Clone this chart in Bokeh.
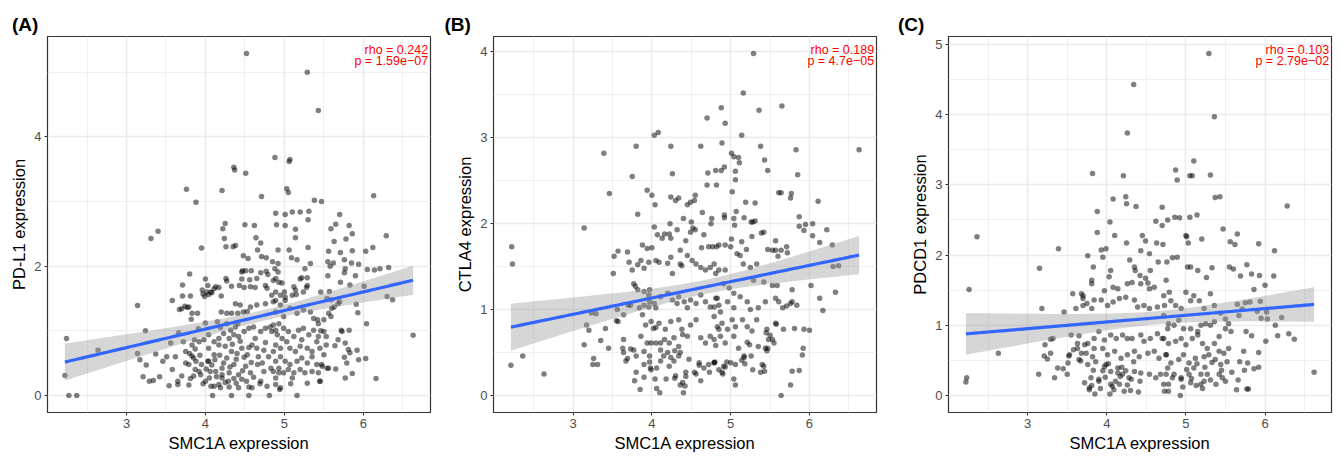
import numpy as np
from bokeh.plotting import figure
from bokeh.layouts import row
from bokeh.models import FixedTicker, Range1d
from bokeh.core.properties import value
from bokeh.embed import file_html
from bokeh.resources import INLINE

# ---------------- data ----------------
x_label = "SMC1A expression"
x_ticks = [3, 4, 5, 6]
x_minor = [2.5, 3.5, 4.5, 5.5, 6.5]

panel_tags = ["(A)", "(B)", "(C)"]
y_labels = ["PD-L1 expression", "CTLA4 expression", "PDCD1 expression"]
y_ticks = [[0, 2, 4], [0, 1, 2, 3, 4], [0, 1, 2, 3, 4, 5]]
y_minor = [[1, 3, 5], [0.5, 1.5, 2.5, 3.5], [0.5, 1.5, 2.5, 3.5, 4.5]]
rho_text = ["rho = 0.242", "rho = 0.189", "rho = 0.103"]
p_text = ["p = 1.59e\u221207", "p = 4.7e\u221205", "p = 2.79e\u221202"]

# (SMC1A, PD-L1)
pdl1_points = [
(4.52,5.29),(5.29,5.00),(5.43,4.41),(4.88,3.68),(5.07,3.65),(5.06,3.62),(4.36,3.53),(4.37,3.49),(4.51,3.44),(3.76,3.19),
(4.21,3.17),(5.03,3.20),(5.05,3.14),(3.88,2.99),(4.71,3.08),(5.38,3.02),(5.47,3.00),(6.13,3.09),(3.31,2.43),(3.40,2.54),
(3.95,2.28),(4.25,2.66),(4.22,2.58),(4.50,2.64),(4.62,2.63),(4.89,2.82),(5.01,2.80),(5.10,2.84),(5.20,2.84),(5.31,2.85),
(4.90,2.64),(5.01,2.63),(5.30,2.72),(5.14,2.57),(5.70,2.80),(5.59,2.58),(5.65,2.65),(5.82,2.63),(5.86,2.50),(6.29,2.47),
(4.24,2.43),(4.26,2.30),(4.35,2.30),(4.38,2.32),(4.64,2.44),(4.70,2.36),(5.14,2.44),(5.63,2.38),(5.78,2.42),(6.12,2.29),
(4.66,2.25),(4.92,2.25),(5.06,2.25),(5.30,2.29),(5.56,2.23),(5.71,2.21),(5.86,2.24),(6.03,2.23),(4.48,2.16),(4.54,2.12),
(4.71,2.15),(4.77,2.13),(5.09,2.13),(5.16,2.10),(5.76,2.10),(5.85,2.05),(5.94,2.03),(5.55,2.07),(5.58,2.00),(4.85,2.07),
(4.92,2.04),(4.92,1.91),(5.33,2.04),(5.26,1.96),(5.77,1.96),(5.76,1.90),(5.83,1.71),(6.14,1.94),(6.21,1.96),(6.32,1.98),
(3.80,1.88),(3.71,1.71),(4.00,1.80),(3.96,1.63),(4.02,1.60),(3.99,1.53),(4.04,1.56),(4.07,1.60),(4.13,1.68),(4.17,1.67),
(4.26,1.81),(4.33,1.69),(4.47,1.93),(4.51,1.93),(4.46,1.80),(4.56,1.79),(4.65,1.81),(4.49,1.67),(4.63,1.67),(4.70,1.90),
(4.77,1.92),(4.76,1.70),(4.78,1.66),(4.89,1.81),(4.97,1.74),(5.00,1.60),(5.12,1.68),(5.15,1.56),(5.22,1.82),(5.29,1.82),
(5.28,1.67),(5.46,1.60),(5.57,1.61),(5.59,1.48),(5.71,1.75),(6.01,1.69),(6.30,1.53),(6.37,1.48),(5.91,1.41),(5.93,1.28),
(6.04,1.11),(5.92,0.70),(6.03,0.57),(6.16,0.26),(6.63,0.93),(3.14,1.39),(3.24,1.00),(3.14,0.65),(3.17,0.55),(3.25,0.47),
(3.21,0.29),(3.29,0.22),(3.34,0.23),(3.42,0.29),(3.37,0.64),(3.46,0.53),(3.51,0.60),(3.54,0.15),(3.65,0.17),(3.65,0.22),
(3.58,1.47),(3.56,0.81),(3.71,1.54),(3.81,1.54),(3.70,1.34),(3.74,1.38),(3.77,1.36),(3.79,1.37),(3.83,1.27),(3.90,1.27),
(3.82,1.18),(3.66,0.97),(3.72,0.83),(3.83,0.78),(3.87,0.72),(3.75,0.68),(3.83,0.61),(3.88,0.53),(3.95,0.48),(3.92,0.37),
(3.81,0.26),(3.79,0.16),(3.85,0.30),(4.06,0.37),(4.03,0.53),(4.11,0.14),(4.09,0.00),(4.17,0.17),(4.21,0.32),(4.29,0.22),
(4.33,0.00),(4.30,0.13),(4.55,0.13),(4.55,0.00),(4.81,0.00),(5.16,0.00),(4.94,0.09),(5.08,0.18),(2.27,0.00),(2.37,0.00),
(2.22,0.31),(2.24,0.88),(2.64,0.70),(5.77,0.27),(5.86,0.34),(5.79,0.50),(5.76,0.59),(5.83,0.66),(5.82,1.01),(5.65,0.41),
(5.56,0.42),(5.45,0.22),(5.47,0.48),(5.53,0.78),(5.68,0.86),(5.72,1.01),(5.70,1.45),(5.59,1.22),(5.63,1.37),(5.64,0.77),
(5.53,0.91),(5.46,1.00),(5.42,1.17),
(4.03,1.70),(4.11,1.65),(3.97,1.57),(4.08,1.59),(4.20,1.54),(4.27,1.77),(4.43,1.70),(4.57,1.68),(4.46,1.91),(4.58,1.93),
(4.79,1.87),(4.88,1.96),(3.67,1.33),(4.20,1.29),(4.27,1.27),(4.33,1.27),(4.41,1.27),(4.48,1.29),(4.53,1.30),(4.38,1.42),
(4.44,1.40),(4.57,1.37),(4.65,1.40),(4.76,1.42),(4.84,1.55),(4.89,1.47),(4.15,1.14),(4.19,1.05),(4.27,1.11),(4.32,1.01),
(4.38,1.06),(4.41,1.11),(4.04,0.94),(4.11,0.83),(4.17,0.88),(4.23,0.96),(4.30,0.88),(4.36,0.94),(4.42,0.91),(4.49,0.99),
(4.55,1.04),(4.61,1.06),(4.70,0.99),(4.76,1.04),(4.82,1.06),(4.89,1.01),(3.80,0.65),(3.85,0.58),(3.92,0.83),(3.98,0.86),
(4.04,0.73),(4.11,0.63),(4.17,0.78),(4.25,0.76),(4.33,0.68),(4.40,0.65),(4.46,0.73),(4.53,0.63),(4.59,0.78),(4.65,0.73),
(4.74,0.70),(4.80,0.60),(4.86,0.68),(3.58,0.40),(3.79,0.48),(3.87,0.40),(3.94,0.32),(4.04,0.53),(4.13,0.37),(4.21,0.42),
(4.30,0.35),(4.36,0.48),(4.42,0.32),(4.51,0.45),(4.57,0.35),(4.66,0.48),(4.74,0.37),(4.83,0.42),(4.93,0.35),(4.00,0.22),
(4.07,0.14),(4.21,0.27),(4.39,0.19),(4.46,0.25),(4.59,0.12),(4.70,0.22),(4.78,0.14),(4.89,0.27),
(4.86,1.78),(4.93,1.75),(5.20,1.80),(5.29,1.70),(4.89,1.60),(4.95,1.55),(5.01,1.52),(5.10,1.55),(5.14,1.63),(5.24,1.60),
(5.54,1.50),(5.68,1.42),(5.94,0.55),(5.73,0.99),(5.77,0.81),(5.81,0.71),
(4.86,1.45),(4.95,1.40),(5.01,1.47),(4.89,1.29),(4.99,1.22),(5.07,1.35),(5.16,1.27),(5.24,1.32),(5.33,1.29),(5.37,1.19),
(5.43,1.11),(5.50,1.17),(5.56,1.27),(5.60,1.35),(4.86,1.09),(4.93,1.11),(4.99,1.04),(4.84,0.99),(4.91,0.94),(4.97,0.88),
(5.05,0.99),(5.12,0.91),(5.18,1.01),(5.24,1.04),(5.31,0.94),(5.37,1.01),(5.43,0.91),(5.50,0.99),(4.89,0.78),(4.95,0.73),
(5.03,0.83),(5.07,0.73),(5.14,0.68),(5.20,0.76),(5.22,0.86),(5.29,0.73),(5.35,0.68),(5.41,0.83),(5.45,0.73),(5.50,0.63),
(4.89,0.53),(4.95,0.60),(5.01,0.53),(5.07,0.48),(5.16,0.53),(5.22,0.58),(5.29,0.50),(5.35,0.60),(5.41,0.48),(5.48,0.45),
(4.86,0.37),(4.93,0.42),(4.99,0.35),(5.05,0.40),(5.12,0.35),(5.20,0.40),(5.26,0.35),(5.35,0.37),(5.43,0.35),(5.54,0.42),
(4.89,0.17),(4.95,0.12),(5.10,0.27),(5.29,0.19),(5.45,0.22),
(3.93,0.62),(3.97,0.18),(4.01,0.41),(4.05,0.27),(4.08,0.47),(4.12,0.55),(4.14,0.29),(4.18,0.62),(4.19,0.12),(4.23,0.50),
(4.25,0.20),(4.27,0.58),(4.31,0.44),(4.34,0.79),(4.36,0.26),(4.39,0.56),(4.42,0.12),(4.44,0.84),(4.47,0.38),(4.49,0.59),
(4.52,0.22),(4.55,0.74),(4.58,0.51),(4.61,0.28),(4.63,0.88),(4.67,0.60),(4.69,0.18),(4.72,0.50),(4.76,0.82),(3.86,0.86),
(3.91,1.03),(4.00,1.12),(3.75,0.50),(3.70,0.30),(3.62,0.60),(5.55,1.85),(5.62,2.05),(5.90,1.85),(6.05,1.95),
]

# (SMC1A, CTLA4)
ctla4_points = [
(5.29,3.98),(5.16,3.52),(5.65,3.37),(4.88,3.35),(5.36,3.32),(4.70,3.23),(4.93,3.17),(5.14,3.03),(4.03,3.03),(4.08,3.06),
(3.80,2.90),(4.24,2.90),(4.62,2.90),(4.89,2.94),(5.38,2.90),(5.83,2.86),(6.63,2.86),(3.39,2.82),(5.01,2.82),(5.04,2.78),
(5.10,2.77),(5.11,2.71),(5.06,2.61),(5.06,2.51),(4.92,2.66),(4.88,2.62),(4.81,2.62),(5.43,2.74),(5.47,2.62),(5.85,2.57),
(3.75,2.55),(4.26,2.58),(4.71,2.59),(3.46,2.35),(3.94,2.39),(4.00,2.33),(4.04,2.22),(4.24,2.31),(4.30,2.27),(4.34,2.30),
(4.45,2.22),(4.49,2.25),(4.54,2.27),(4.55,2.33),(4.70,2.45),(4.82,2.45),(5.02,2.37),(5.19,2.25),(5.31,2.24),(5.61,2.36),
(5.64,2.36),(5.77,2.35),(5.76,2.30),(6.11,2.26),(3.82,2.11),(4.64,2.13),(4.76,2.06),(4.75,2.00),(4.92,2.10),(4.92,2.07),
(5.07,2.14),(5.04,2.06),(5.05,1.98),(5.17,2.07),(5.26,2.02),(5.28,2.02),(5.31,2.03),(5.87,2.08),(5.87,1.97),(5.95,1.99),
(5.93,1.92),(6.04,2.00),(6.04,1.86),(6.22,1.93),(6.13,1.78),(6.29,1.75),(6.30,1.50),(6.37,1.51),(6.33,1.20),(6.02,1.28),
(6.13,1.13),(6.17,0.99),(3.14,1.95),(4.03,1.96),(4.07,1.87),(4.13,1.83),(4.22,1.88),(4.24,1.83),(4.16,1.88),(4.23,2.00),
(4.32,1.93),(4.40,2.06),(4.50,2.02),(4.52,1.95),(4.55,1.93),(4.66,1.87),(4.63,1.72),(4.77,1.73),(4.82,1.73),(5.01,1.82),
(5.00,1.73),(5.14,1.79),(5.20,1.70),(5.27,1.85),(5.39,1.89),(5.47,1.70),(5.57,1.80),(5.57,1.69),(5.60,1.62),(5.64,1.69),
(5.71,1.73),(5.72,1.66),(5.59,1.28),(5.66,1.02),(5.71,1.04),(5.76,1.07),(5.84,1.05),(5.78,1.23),(5.58,0.83),(5.67,0.77),
(5.81,0.78),(5.93,0.77),(6.00,0.76),(5.92,0.55),(5.91,0.47),(5.87,0.29),(5.78,0.28),(5.76,0.12),(5.64,0.00),(5.45,0.73),
(5.50,0.70),(5.48,0.65),(5.47,0.55),(5.46,0.52),(5.40,0.36),(5.43,0.28),(5.38,0.27),(2.22,1.73),(2.23,1.53),(2.21,0.35),
(2.36,0.46),(2.63,0.25),(3.17,0.82),(3.20,0.76),(3.14,0.59),(3.26,0.43),(3.31,0.36),(3.25,0.36),(3.35,0.64),(3.41,0.78),
(3.45,0.55),(3.23,0.96),(3.29,0.95),(3.52,1.62),(3.57,1.68),(3.51,1.42),(3.56,1.00),(3.55,0.87),(3.64,0.94),(3.70,1.05),
(3.64,0.65),(3.63,0.55),(3.64,0.50),(3.67,0.40),(3.69,0.43),(3.80,0.46),(3.80,0.27),(3.78,0.17),(3.85,0.07),(3.90,0.21),
(3.97,0.39),(3.98,0.32),(3.99,0.61),(4.05,0.61),(4.04,0.19),(4.06,0.08),(4.10,0.03),(4.06,0.32),(4.18,0.19),(4.29,0.20),
(4.36,0.12),(4.40,0.03),(4.42,0.11),(4.43,0.22),(4.60,0.35),(4.62,0.17),(4.56,0.25),(4.72,0.36),(4.80,0.39),(4.90,0.25),
(5.04,0.19),(5.06,0.12),(4.93,0.33),(4.95,0.39),(5.14,0.41),(5.18,0.37),(5.28,0.30),(5.26,0.46),(5.21,0.62),(5.24,0.59),
(5.35,0.57),(3.69,1.67),(3.71,1.55),(3.75,1.46),(3.82,1.52),(3.86,1.57),(3.88,1.75),(3.94,1.71),(4.00,1.72),(3.90,1.48),
(3.77,1.30),(3.79,1.27),(3.82,1.23),(3.97,1.23),(3.97,1.09),(3.90,1.05),(3.92,0.82),(3.88,0.94),(3.94,0.61),(3.90,0.51),
(4.02,0.78),(4.09,0.84),(4.11,0.61),(4.11,0.53),(4.16,0.65),(4.15,0.46),(4.20,0.50),(4.24,0.44),(4.28,0.67),(4.29,0.52),
(4.34,0.57),(4.39,0.71),
(4.24,1.61),(4.36,1.69),(4.43,1.80),(4.49,1.90),(4.72,1.73),(3.96,1.55),(4.05,1.57),(4.09,1.55),(4.20,1.54),(4.26,1.42),
(4.36,1.53),(4.38,1.51),(4.45,1.63),(4.51,1.57),(4.56,1.53),(4.62,1.49),(4.68,1.46),(4.74,1.49),(4.81,1.42),(4.85,1.46),
(3.90,1.21),(3.96,1.17),(4.03,1.07),(4.11,1.15),(4.20,1.19),(4.26,1.11),(4.32,1.07),(4.34,1.15),(4.41,1.09),(4.45,1.02),
(4.49,1.11),(4.56,1.07),(4.62,1.17),(4.68,1.09),(4.74,1.03),(4.81,1.13),(4.85,1.05),(3.73,1.05),(3.84,1.02),(3.96,1.03),
(4.05,1.02),(3.57,0.86),(3.73,0.54),(3.86,0.69),(3.99,0.86),(4.05,0.79),(4.17,0.77),(4.24,0.86),(4.34,0.88),(4.38,0.77),
(4.45,0.69),(4.49,0.82),(4.56,0.88),(4.62,0.67),(4.68,0.61),(4.74,0.69),(4.81,0.58),(4.85,0.77),(4.22,0.61),(4.36,0.50),
(3.77,0.53),(3.90,0.36),(3.99,0.30),(3.97,0.46),(4.11,0.40),(4.22,0.34),(4.28,0.40),(4.30,0.23),(4.34,0.46),(4.39,0.15),
(4.43,0.27),(4.47,0.42),(4.54,0.27),(4.60,0.38),(4.66,0.32),(4.73,0.27),(4.79,0.38),(4.85,0.30),
(4.85,1.75),(4.93,1.75),(5.42,1.90),(5.53,1.69),(5.08,1.65),(5.12,1.63),(5.16,1.53),(5.25,1.49),(5.33,1.53),(4.79,1.53),
(4.93,1.46),(5.29,1.34),(5.42,1.32),(5.53,1.28),(5.61,1.09),(5.78,1.09),(5.57,1.13),(5.44,1.09),(5.35,1.02),(5.25,1.00),
(5.21,1.09),(5.12,1.15),(5.04,1.19),(4.98,1.25),(4.91,1.30),(4.83,1.13),(4.79,1.03),(4.87,0.97),(4.96,1.09),(5.04,1.02),
(4.79,0.92),(4.83,0.80),(4.89,0.84),(4.96,0.77),(5.02,0.88),(5.06,0.80),(5.15,0.88),(5.21,0.80),(5.27,0.75),(5.33,0.88),
(5.46,0.77),(5.53,0.65),(5.57,0.84),(4.79,0.65),(4.87,0.69),(4.93,0.61),(5.04,0.69),(5.10,0.55),(5.17,0.46),(5.44,0.55),
(5.55,0.61),(4.79,0.38),(4.91,0.34),(5.00,0.38),(5.06,0.36),(5.17,0.44),(5.42,0.34),(4.89,0.27),
]

# (SMC1A, PDCD1)
pdcd1_points = [
(5.29,4.87),(4.34,4.43),(5.36,3.97),(4.26,3.74),(5.10,3.34),(4.87,3.21),(4.89,3.07),(5.05,3.13),(5.08,3.13),(5.31,3.14),
(3.82,3.16),(4.21,3.13),(5.37,2.82),(5.43,2.83),(4.08,2.80),(4.24,2.83),(4.25,2.73),(4.37,2.69),(4.70,2.68),(6.28,2.70),
(3.88,2.62),(4.04,2.47),(4.62,2.48),(4.70,2.42),(4.77,2.50),(4.86,2.54),(4.92,2.53),(5.05,2.54),(5.14,2.57),(2.36,2.26),
(2.26,1.51),(2.23,0.25),(2.22,0.19),(2.63,0.60),(3.39,2.09),(3.15,1.81),(3.18,1.24),(3.88,2.32),(4.10,2.28),(4.25,2.17),
(4.45,2.28),(4.49,2.20),(4.43,2.06),(4.54,2.02),(4.63,2.17),(4.71,2.15),(5.00,2.28),(5.03,2.17),(5.01,2.26),(5.20,2.23),
(5.47,2.37),(5.65,2.30),(5.56,2.19),(5.62,2.15),(5.92,2.16),(6.12,2.06),(3.76,1.99),(3.93,2.07),(3.95,1.97),(3.99,2.09),
(3.83,1.83),(3.81,1.64),(3.81,1.59),(4.29,1.93),(4.35,1.83),(4.36,1.78),(4.42,1.71),(4.55,1.78),(4.65,1.90),(4.76,1.90),
(4.83,1.96),(4.89,1.97),(4.49,1.67),(4.52,1.60),(4.54,1.52),(5.02,1.83),(5.06,1.83),(5.15,1.78),(5.26,1.68),(5.33,1.82),
(5.55,1.83),(5.60,1.80),(5.69,1.70),(5.77,1.86),(5.83,1.73),(5.93,1.71),(5.86,1.51),(6.00,1.57),(6.11,1.70),(6.21,1.11),
(6.13,1.00),(6.16,0.85),(6.30,0.88),(6.37,0.80),(6.62,0.33),(6.01,0.77),(5.92,0.61),(5.92,0.40),(5.86,0.38),(5.83,0.85),
(5.78,0.46),(5.68,0.48),(5.73,0.63),(5.64,0.08),(5.77,0.09),(5.79,0.09),(6.02,1.19),(5.95,1.10),(5.90,1.20),(5.94,1.34),
(5.81,1.33),(5.75,1.32),(5.71,1.23),(3.57,1.45),(3.68,1.45),(3.70,1.38),(3.75,1.31),(3.81,1.24),(3.46,1.19),(3.55,0.86),
(3.65,0.85),(3.63,0.67),(3.72,0.72),(3.65,0.51),(3.58,0.65),(3.68,0.60),(3.22,0.72),(3.29,0.80),(3.32,0.81),(3.29,0.60),
(3.25,0.52),(3.21,0.56),(3.38,0.39),(3.45,0.38),(3.34,0.25),(3.14,0.30),(3.52,0.56),(3.51,0.46),(3.80,0.25),(3.81,0.14),
(3.85,0.02),(3.90,0.20),(3.78,0.08),(3.86,0.48),(3.95,0.35),(3.97,0.41),(4.04,0.02),(4.07,0.13),(4.11,0.20),(4.17,0.27),
(4.22,0.06),(4.30,0.07),(4.40,0.05),(4.31,0.23),(4.24,0.35),(4.73,0.06),(4.93,0.00),(4.78,0.16),(4.85,0.30),(4.94,0.25),
(5.06,0.18),(5.19,0.16),(5.23,0.20),(5.27,0.30),(5.42,0.30),(5.46,0.25),
(4.05,1.78),(4.03,1.69),(4.26,1.59),(4.32,1.61),(4.43,1.59),(4.60,1.54),(4.75,1.64),(4.14,1.52),(4.08,1.54),(3.97,1.49),
(3.70,1.42),(3.70,1.28),(3.84,1.36),(3.93,1.36),(4.01,1.28),(4.08,1.33),(4.16,1.38),(4.24,1.40),(4.35,1.36),(4.39,1.26),
(4.47,1.28),(4.54,1.24),(4.64,1.26),(4.73,1.28),(4.79,1.47),(3.61,1.24),
(3.63,0.74),(3.76,0.74),(3.84,0.81),(3.90,0.91),(3.97,0.79),(4.05,0.86),(4.12,0.81),(4.20,0.86),(4.26,0.81),(4.32,0.81),
(4.43,0.86),(4.47,0.77),(4.55,0.81),(4.64,0.88),(4.70,0.81),(4.77,0.95),(3.53,0.58),(3.74,0.60),(3.82,0.55),(3.84,0.67),
(3.95,0.67),(4.01,0.58),(4.10,0.63),(4.18,0.53),(4.26,0.58),(4.35,0.63),(4.41,0.55),(4.52,0.60),(4.60,0.63),(4.66,0.53),
(4.75,0.58),(3.50,0.30),(3.67,0.49),(3.76,0.44),(3.90,0.23),(3.99,0.44),(4.05,0.34),(4.14,0.39),(4.20,0.30),(4.28,0.25),
(4.35,0.34),(4.43,0.32),(4.54,0.30),(4.62,0.25),(4.68,0.30),(4.77,0.39),(3.78,0.11),(4.05,0.16),(4.16,0.16),(4.14,0.32),
(4.72,1.42),(4.81,1.35),(4.87,1.28),(4.94,1.24),(5.00,1.47),(5.06,1.35),(5.10,1.42),(5.17,1.35),(5.23,1.24),(5.31,1.45),
(5.36,1.28),(5.44,1.17),(5.50,1.09),(5.54,1.02),(5.65,1.30),(6.03,1.09),(5.67,1.14),(5.76,0.91),(4.72,1.14),(4.78,1.02),
(4.85,1.00),(4.91,1.07),(4.97,0.95),(5.06,0.95),(5.15,0.91),(5.19,1.00),(5.25,1.02),(5.31,1.00),(5.36,1.05),(5.42,0.84),
(5.50,0.95),(5.57,0.91),(4.72,0.81),(4.78,0.74),(4.87,0.77),(4.94,0.81),(5.00,0.72),(5.08,0.81),(5.15,0.86),(5.21,0.74),
(5.27,0.67),(5.36,0.74),(5.42,0.63),(5.48,0.60),(5.54,0.67),(4.75,0.58),(4.81,0.46),(4.91,0.51),(4.97,0.58),(5.04,0.46),
(5.12,0.53),(5.23,0.55),(5.29,0.58),(5.37,0.51),(5.44,0.44),(5.52,0.48),(4.75,0.30),(4.83,0.25),(4.94,0.23),(5.04,0.30),
(5.10,0.39),(5.19,0.30),(4.72,0.16),(4.78,0.06),
(4.96,0.12),(5.01,0.37),(5.07,0.24),(5.13,0.14),(5.14,0.45),(5.21,0.10),(5.24,0.40),(5.31,0.22),(5.33,0.47),(5.38,0.16),
(5.45,0.36),(5.50,0.20),(5.58,0.33),(5.66,0.22),(5.74,0.36),
(3.72,0.18),(3.83,0.36),(3.92,0.10),(3.98,0.26),(4.02,0.45),(4.09,0.08),(4.19,0.40),(4.26,0.15),(4.34,0.48),(4.42,0.20),
]

panel_points = [pdl1_points, ctla4_points, pdcd1_points]

# ---------------- layout / style ----------------
FONT = "Liberation Sans"
fig_w = [440, 450, 450]
fig_h = 458
b_left = [47, 53, 58]
b_right = [10, 14, 9]
b_top = [33, 34, 36]
b_bottom = [46, 45, 44]
tag_offset = [-35.5, -49, -50.5]


def lm_band(x, y, n=80, t=1.966):
    b1, b0 = np.polyfit(x, y, 1)
    xs = np.linspace(x.min(), x.max(), n)
    yhat = b0 + b1 * xs
    resid = y - (b0 + b1 * x)
    s = np.sqrt((resid ** 2).sum() / (len(x) - 2))
    se = s * np.sqrt(1.0 / len(x) + (xs - x.mean()) ** 2 / ((x - x.mean()) ** 2).sum())
    return xs, yhat, yhat - t * se, yhat + t * se


def padded(lo, hi, f=0.05):
    d = (hi - lo) * f
    return lo - d, hi + d


figs = []
for i in range(3):
    pts = np.array(panel_points[i], dtype=float)
    x, y = pts[:, 0], pts[:, 1]
    x0, x1 = padded(x.min(), x.max())
    y0, y1 = padded(y.min(), y.max())

    p = figure(width=fig_w[i], height=fig_h, output_backend="svg", toolbar_location=None,
               x_range=Range1d(x0, x1), y_range=Range1d(y0, y1),
               min_border_left=b_left[i], min_border_right=b_right[i],
               min_border_top=b_top[i], min_border_bottom=b_bottom[i])
    p.background_fill_color = "white"
    p.border_fill_color = "white"
    p.outline_line_color = "#333333"
    p.outline_line_width = 1.2

    p.title.text = panel_tags[i]
    p.title.text_font = FONT
    p.title.text_font_size = "19px"
    p.title.text_font_style = "bold"
    p.title.text_color = "black"
    p.title.align = "left"
    p.title.offset = tag_offset[i]
    p.title.standoff = 4

    p.xaxis.ticker = FixedTicker(ticks=x_ticks, minor_ticks=x_minor)
    p.yaxis.ticker = FixedTicker(ticks=y_ticks[i], minor_ticks=y_minor[i])
    p.xaxis.axis_label = x_label
    p.yaxis.axis_label = y_labels[i]
    for ax in (p.xaxis[0], p.yaxis[0]):
        ax.axis_line_color = None
        ax.major_tick_line_color = "#333333"
        ax.major_tick_line_width = 1.1
        ax.major_tick_out = 3
        ax.major_tick_in = 0
        ax.minor_tick_out = 0
        ax.minor_tick_in = 0
        ax.major_label_text_font = FONT
        ax.major_label_text_font_size = "13px"
        ax.major_label_text_color = "#4D4D4D"
        ax.axis_label_text_font = FONT
        ax.axis_label_text_font_size = "16.5px"
        ax.axis_label_text_font_style = "normal"
        ax.axis_label_text_color = "black"
        ax.major_label_standoff = 3
        ax.axis_label_standoff = 3

    for g in (p.xgrid[0], p.ygrid[0]):
        g.grid_line_color = "#EBEBEB"
        g.grid_line_width = 1.6
        g.minor_grid_line_color = "#EBEBEB"
        g.minor_grid_line_width = 0.8

    p.scatter(x, y, size=5.5, fill_color="black", fill_alpha=0.5, line_color=None)

    xs, yh, lo, hi = lm_band(x, y)
    p.varea(x=xs, y1=lo, y2=hi, fill_color="#999999", fill_alpha=0.4)
    p.line(xs, yh, line_color="#3366FF", line_width=3.2)

    tx = x1 - 0.001 * (x1 - x0)
    ty = y1 - 0.001 * (y1 - y0)
    p.text(x=[tx], y=[ty], text=[rho_text[i]], text_align="right", text_baseline="alphabetic",
           x_offset=-2, y_offset=13.5, text_font=value(FONT), text_font_size="12.5px", text_color="red")
    p.text(x=[tx], y=[ty], text=[p_text[i]], text_align="right", text_baseline="alphabetic",
           x_offset=-2, y_offset=24.5, text_font=value(FONT), text_font_size="12.5px", text_color="red")
    figs.append(p)

layout = row(*figs)
open("out.html", "w").write(file_html(layout, INLINE))
